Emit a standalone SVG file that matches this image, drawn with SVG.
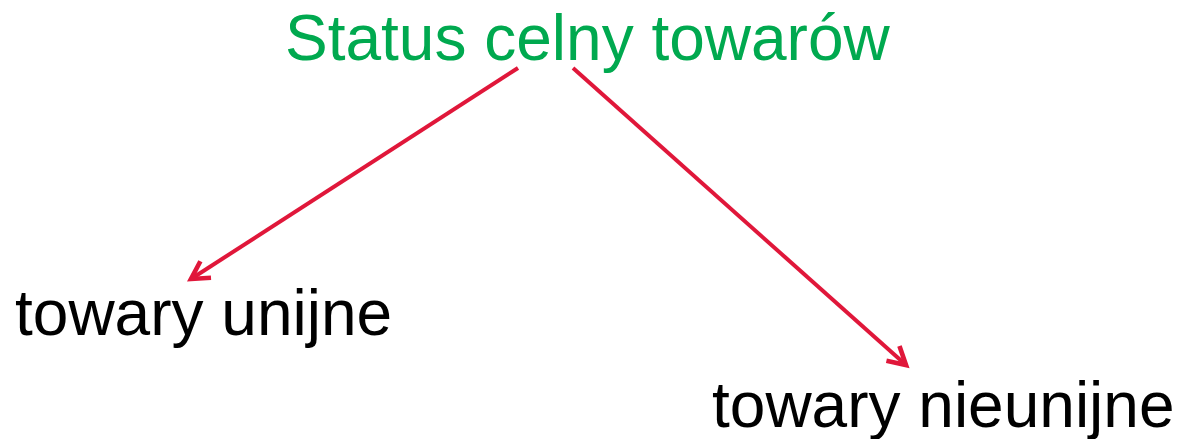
<svg xmlns="http://www.w3.org/2000/svg" width="1181" height="439" viewBox="0 0 1181 439">
<style>
.t{font-family:"Liberation Sans",Arial,sans-serif;font-size:64px}
.title{fill:#00A94F}
.lbl{fill:#000}
.c{stroke:#E0173A;stroke-width:4;fill:none}
</style>
<defs>
<marker id="ah" viewBox="-1 -1 12 12" refX="9.5" refY="5" markerWidth="7" markerHeight="7" orient="auto" markerUnits="strokeWidth" overflow="visible">
<polyline points="2,0.8 9.5,5 2,9.2" fill="none" stroke="#E0173A" stroke-width="2" stroke-linejoin="miter"/>
</marker>
</defs>
<rect width="1181" height="439" fill="#fff"/>
<g id="connectors">
<line class="c" x1="518" y1="68" x2="191" y2="279" marker-end="url(#ah)"/>
<line class="c" x1="573" y1="68" x2="906" y2="365" marker-end="url(#ah)"/>
</g>
<g id="root"><text class="t title" x="285" y="60">Status celny towarów</text></g>
<g id="unijne"><text class="t lbl" x="15" y="335">towary unijne</text></g>
<g id="nieunijne"><text class="t lbl" x="712" y="427">towary nieunijne</text></g>
</svg>
